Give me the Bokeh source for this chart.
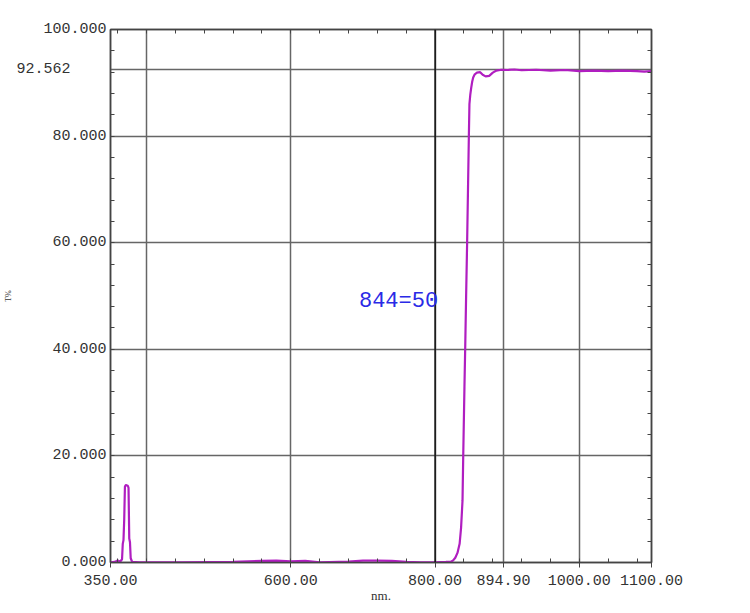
from bokeh.plotting import figure
from bokeh.models import FixedTicker, LinearAxis, Label, Span, Range1d
from bokeh.embed import file_html
from bokeh.resources import INLINE

# ---- data ----
wavelength = [350, 356, 360, 363, 366, 367, 368, 369, 370, 371, 372, 374, 375,
              376, 377, 378, 380, 390, 450, 520, 560, 580, 600, 620, 640, 680,
              700, 720, 740, 760, 780, 800, 815, 822, 825, 828, 831, 834, 836,
              838, 839, 840.7, 841.7, 843, 844.4, 845.6, 846.8, 847.6, 848.8,
              850, 851.4, 852.8, 855, 858, 862.5, 866, 870, 875, 880, 885,
              891.7, 900, 910, 920, 940, 960, 980, 1000, 1020, 1040, 1060,
              1080, 1090, 1100]
transmittance = [0.05, 0.1, 0.4, 0.1, 0.6, 3.5, 4.2, 8.0, 14.2, 14.5, 14.5,
                 14.4, 14.0, 4.5, 3.8, 0.8, 0.1, 0.05, 0.05, 0.1, 0.3, 0.35,
                 0.2, 0.3, 0.05, 0.15, 0.35, 0.35, 0.3, 0.1, 0.05, 0.05, 0.1,
                 0.15, 0.4, 0.9, 1.8, 3.5, 6.5, 11.6, 20, 33, 40, 50, 60, 70,
                 80, 86, 87.8, 89, 90.2, 91.0, 91.6, 91.9, 92.0, 91.5, 91.2,
                 91.3, 91.9, 92.3, 92.45, 92.4, 92.5, 92.35, 92.45, 92.3, 92.4,
                 92.2, 92.3, 92.2, 92.3, 92.2, 92.1, 92.2]

x_tick_values = [350, 600, 800, 894.9, 1000, 1100]
x_tick_labels = ["350.00", "600.00", "800.00", "894.90", "1000.00", "1100.00"]
x_grid_values = [400, 600, 800, 894.9, 1000]
x_minor = list(range(360, 1100, 40))

y_tick_values = [0, 20, 40, 60, 80, 92.562, 100]
y_tick_labels = ["0.000", "20.000", "40.000", "60.000", "80.000",
                 "92.562\u00a0\u00a0\u00a0\u00a0", "100.000"]
y_grid_values = [20, 40, 60, 80, 92.562]
y_minor = list(range(4, 100, 4))

annot_text = "844=50"
annot_x, annot_y = 694.4, 48.9

FONT = "Liberation Mono"
FRAME = "#444444"
GRIDC = "#666666"
CURVE = "#b01ec0"

p = figure(width=730, height=605, output_backend="svg", toolbar_location=None,
           x_range=Range1d(350, 1100), y_range=Range1d(0, 100))
p.min_border_left = 110
p.min_border_right = 79
p.min_border_top = 29
p.min_border_bottom = 42
p.background_fill_color = "white"
p.border_fill_color = "white"
p.outline_line_color = FRAME
p.outline_line_width = 1.5

# grids
p.xgrid.ticker = FixedTicker(ticks=x_grid_values)
p.ygrid.ticker = FixedTicker(ticks=y_grid_values)
for g in (p.xgrid, p.ygrid):
    g.grid_line_color = GRIDC
    g.grid_line_width = 1.5
p.add_layout(Span(location=800, dimension="height", line_color="#111111",
                  line_width=1.5))

# bottom axis
xa = p.xaxis[0]
xa.ticker = FixedTicker(ticks=x_tick_values, minor_ticks=x_minor)
xa.major_label_overrides = {v: s for v, s in zip(x_tick_values, x_tick_labels)}
xa.axis_label = "nm."
# left axis
ya = p.yaxis[0]
ya.ticker = FixedTicker(ticks=y_tick_values, minor_ticks=y_minor)
ya.major_label_overrides = {v: s for v, s in zip(y_tick_values, y_tick_labels)}
ya.axis_label = "T%"

for ax in (xa, ya):
    ax.axis_line_color = FRAME
    ax.axis_line_width = 1.5
    ax.major_tick_line_color = FRAME
    ax.minor_tick_line_color = FRAME
    ax.major_tick_in = 0
    ax.minor_tick_in = 4
    ax.minor_tick_out = 0
    ax.major_label_text_font = FONT
    ax.major_label_text_font_size = "15px"
    ax.major_label_text_color = "#333333"
    ax.axis_label_text_font = "Liberation Serif"
    ax.axis_label_text_font_style = "normal"
    ax.axis_label_text_color = "#333333"
xa.major_tick_out = 5
xa.major_label_standoff = 7
xa.axis_label_text_font_size = "13px"
xa.axis_label_standoff = 0
ya.major_tick_out = 0
ya.major_label_standoff = 4
ya.axis_label_text_font_size = "8px"
ya.axis_label_standoff = 0

# top and right axes: inward minor ticks only
top = LinearAxis(ticker=FixedTicker(ticks=[], minor_ticks=x_minor))
right = LinearAxis(ticker=FixedTicker(ticks=[], minor_ticks=y_minor))
for ax in (top, right):
    ax.axis_line_color = FRAME
    ax.axis_line_width = 1.5
    ax.minor_tick_line_color = FRAME
    ax.minor_tick_in = 4
    ax.minor_tick_out = 0
    ax.major_tick_in = 0
    ax.major_tick_out = 0
    ax.major_label_text_font_size = "0px"
p.add_layout(top, "above")
p.add_layout(right, "right")

# curve
p.line(wavelength, transmittance, line_color=CURVE, line_width=2.2)

# annotation
p.add_layout(Label(x=annot_x, y=annot_y, text=annot_text, text_font=FONT,
                   text_font_size="22px", text_color="#2a2ae6",
                   text_baseline="alphabetic", text_align="left"))

open("out.html", "w").write(file_html(p, INLINE))
